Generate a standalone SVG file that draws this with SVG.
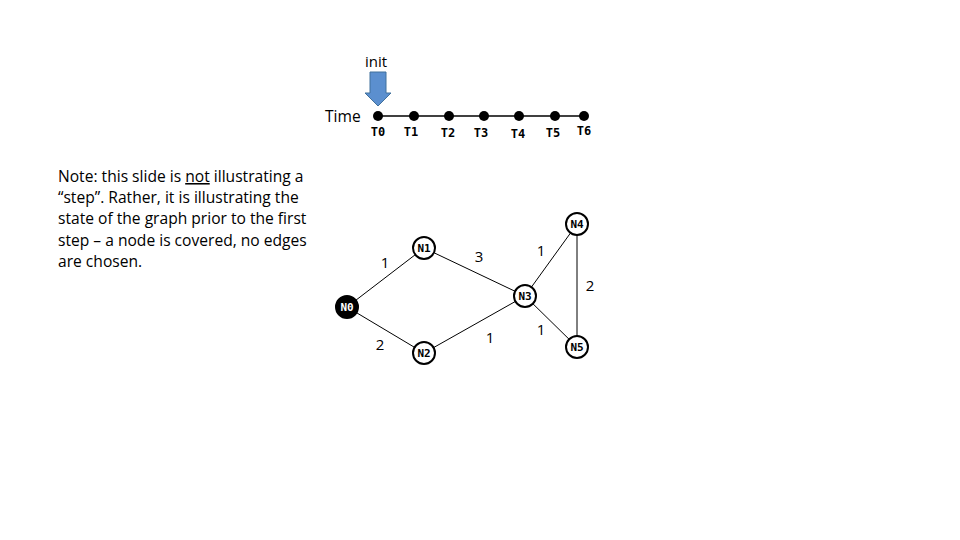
<svg xmlns="http://www.w3.org/2000/svg" width="960" height="540" viewBox="0 0 960 540">
<style>
.note{font-family:"Open Sans","Liberation Sans",sans-serif;font-size:15.6px;fill:#000}
.t{font-family:"DejaVu Sans Mono",monospace;font-size:12px;font-weight:bold;fill:#000;text-anchor:middle}
.lbl{font-family:"Open Sans","Liberation Sans",sans-serif;font-size:15px;fill:#000;text-anchor:middle}
.edge{stroke:#000;stroke-width:1;fill:none}
.node{fill:#fff;stroke:#000;stroke-width:2}
.nt{font-family:"DejaVu Sans Mono",monospace;font-size:11px;font-weight:bold;fill:#000;text-anchor:middle}
.dot{fill:#000}
</style>
<rect width="960" height="540" fill="#fff"/>
<g id="note">
<text class="note" x="58" y="182">Note: this slide is <tspan text-decoration="underline">not</tspan> illustrating a</text>
<text class="note" x="58" y="203">“step”. Rather, it is illustrating the</text>
<text class="note" x="58" y="224">state of the graph prior to the first</text>
<text class="note" x="58" y="246">step – a node is covered, no edges</text>
<text class="note" x="58" y="267">are chosen.</text>
</g>
<g id="timeline">
<text class="lbl" x="376" y="67">init</text>
<path d="M370,72 H386 V93 H391 L378,106 L365,93 H370 Z" fill="#5b8fcf" stroke="#41719c" stroke-width="1"/>
<text class="note" x="325" y="122">Time</text>
<line x1="378" y1="116" x2="584" y2="116" stroke="#000" stroke-width="1.5"/>
<circle class="dot" cx="378" cy="116" r="5"/>
<circle class="dot" cx="414" cy="116" r="5"/>
<circle class="dot" cx="449" cy="116" r="5"/>
<circle class="dot" cx="484" cy="116" r="5"/>
<circle class="dot" cx="519" cy="116" r="5"/>
<circle class="dot" cx="555" cy="116" r="5"/>
<circle class="dot" cx="584" cy="116" r="5"/>
<text class="t" x="378" y="136">T0</text>
<text class="t" x="411" y="136">T1</text>
<text class="t" x="448" y="137">T2</text>
<text class="t" x="481" y="137">T3</text>
<text class="t" x="518" y="138">T4</text>
<text class="t" x="553" y="137">T5</text>
<text class="t" x="584" y="135">T6</text>
</g>
<g id="connectors">
<line class="edge" x1="347" y1="307" x2="424" y2="248"/>
<line class="edge" x1="347" y1="307" x2="424" y2="353"/>
<line class="edge" x1="424" y1="248" x2="525" y2="296"/>
<line class="edge" x1="424" y1="353" x2="525" y2="296"/>
<line class="edge" x1="525" y1="296" x2="577" y2="224"/>
<line class="edge" x1="525" y1="296" x2="577" y2="347"/>
<line class="edge" x1="577" y1="224" x2="577" y2="347" stroke-width="1.5"/>
<text class="lbl" x="385" y="268">1</text>
<text class="lbl" x="479" y="262">3</text>
<text class="lbl" x="541" y="256">1</text>
<text class="lbl" x="590" y="291">2</text>
<text class="lbl" x="380" y="350">2</text>
<text class="lbl" x="490" y="343">1</text>
<text class="lbl" x="541" y="335">1</text>
</g>
<g id="N0"><ellipse cx="347" cy="307" rx="11" ry="11" fill="#000" stroke="#000" stroke-width="2"/><text class="nt" x="347" y="311" style="fill:#fff">N0</text></g>
<g id="N1"><ellipse class="node" cx="424" cy="248" rx="11" ry="11"/><text class="nt" x="424" y="252">N1</text></g>
<g id="N2"><ellipse class="node" cx="424" cy="353" rx="11" ry="11"/><text class="nt" x="424" y="357">N2</text></g>
<g id="N3"><ellipse class="node" cx="525" cy="296" rx="11" ry="11"/><text class="nt" x="525" y="300">N3</text></g>
<g id="N4"><ellipse class="node" cx="577" cy="224" rx="11" ry="11"/><text class="nt" x="577" y="228">N4</text></g>
<g id="N5"><ellipse class="node" cx="577" cy="347" rx="11" ry="11"/><text class="nt" x="577" y="351">N5</text></g>
</svg>
